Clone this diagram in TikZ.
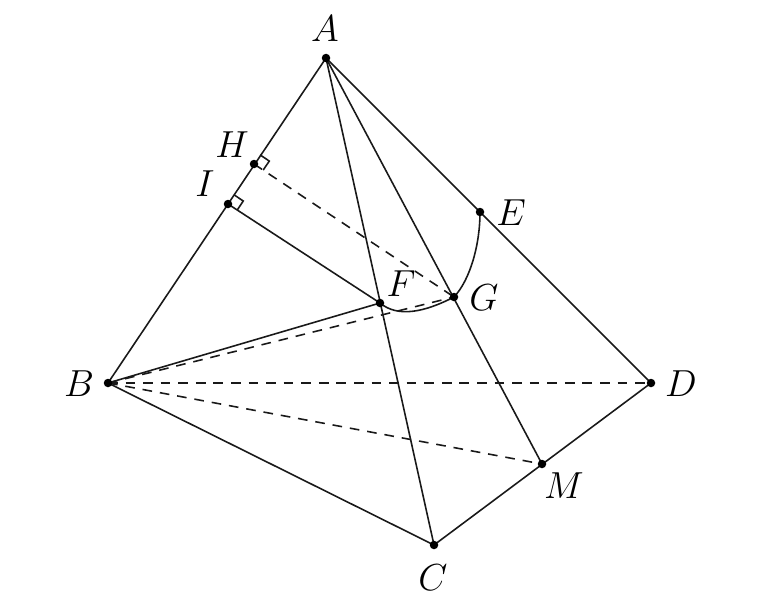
\documentclass[tikz,border=0pt]{standalone}
\usetikzlibrary{calc}
\tikzset{
  pt/.style={circle,fill=black,inner sep=0pt,minimum size=0.17cm},
  lab/.style={inner sep=0pt,font=\LARGE,scale=1.24},
  seg/.style={line width=0.9pt,black!90},
  hidden/.style={seg,dash pattern=on 5.5pt off 4.5pt}
}
\begin{document}
\begin{tikzpicture}
\useasboundingbox (0,0) rectangle (15.68,12.2);

\coordinate (A) at (6.52,11.04);
\coordinate (B) at (2.16,4.54);
\coordinate (C) at (8.68,1.3);
\coordinate (D) at (13.02,4.54);
\coordinate (E) at (9.6,7.96);
\coordinate (F) at (7.6,6.14);
\coordinate (G) at (9.08,6.26);
\coordinate (H) at (5.08,8.92);
\coordinate (I) at (4.56,8.12);
\coordinate (M) at (10.84,2.92);

\draw[seg](B)--(A)--(D)--(C)--(B)--(F)--(I);
\draw[seg](A)--(C);
\draw[seg](A)--(M);
\draw[hidden](B)--(D);
\draw[hidden](B)--(M);
\draw[hidden](B)--(G);
\draw[hidden](H)--(G);
\draw[seg](F) .. controls (7.96,5.84) and (8.5,5.96) .. (G) .. controls (9.4,6.6) and (9.6,7.3) .. (E);

\draw[seg]($(H)!0.22cm!(A)$)--($(H)!0.22cm!(A)!0.22cm!90:(H)$)--($(H)!0.22cm!(G)$);
\draw[seg]($(I)!0.22cm!(A)$)--($(I)!0.22cm!(A)!0.22cm!90:(I)$)--($(I)!0.22cm!(F)$);

\foreach \p in {A,B,C,D,E,F,G,H,I,M}
  \node[pt] (n\p) at (\p) {};

\node[lab] (lA) at (6.5,11.62) {$A$};
\node[lab] (lB) at (1.58,4.52) {$B$};
\node[lab] (lC) at (8.66,0.64) {$C$};
\node[lab] (lD) at (13.62,4.52) {$D$};
\node[lab] (lE) at (10.22,7.94) {$E$};
\node[lab] (lF) at (8.02,6.52) {$F$};
\node[lab] (lG) at (9.68,6.24) {$G$};
\node[lab] (lH) at (4.64,9.3) {$H$};
\node[lab] (lI) at (4.1,8.52) {$I$};
\node[lab] (lM) at (11.28,2.48) {$M$};
\end{tikzpicture}
\end{document}
